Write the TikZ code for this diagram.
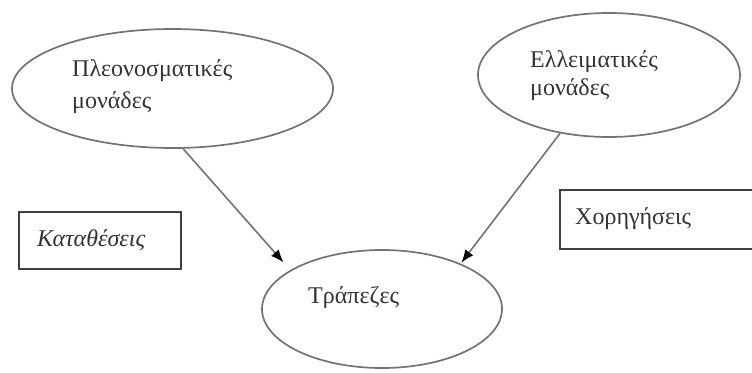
\documentclass[tikz,border=0pt]{standalone}
\usepackage{fontspec}
\setmainfont{Liberation Serif}
\usetikzlibrary{shapes.geometric,arrows.meta}
\begin{document}
\begin{tikzpicture}[x=1pt,y=-1pt,
  unit/.style={ellipse,draw=black!55,line width=1.7pt,inner sep=0pt},
  account/.style={rectangle,draw=black!75,line width=1.5pt,inner sep=0pt},
  lbl/.style={anchor=base west,inner sep=0pt,text=black!80,font=\fontsize{24}{28}\selectfont},
  flow/.style={draw=black!55,line width=1.6pt,-{Latex[length=13pt,width=10pt,black]}}]
\clip (0,0) rectangle (752,372);
\fill[white] (0,0) rectangle (752,372);

% surplus units, deficit units and banks
\node[unit,minimum width=321pt,minimum height=119pt] (surplus) at (172.5,88.5) {};
\node[unit,minimum width=262pt,minimum height=124pt] (deficit) at (609,75) {};
\node[unit,minimum width=240pt,minimum height=118pt] (banks) at (382,309) {};

% deposits and loans
\node[account,minimum width=162pt,minimum height=57pt] (deposits) at (100,240.5) {};
\node[account,minimum width=240pt,minimum height=59pt] (loans) at (680,219.5) {};

% labels
\node[lbl] (surplusA) at (72,76) {Πλεονοσματικές};
\node[lbl] (surplusB) at (72,108) {μονάδες};
\node[lbl] (deficitA) at (530,67) {Ελλειματικές};
\node[lbl] (deficitB) at (530,95) {μονάδες};
\node[lbl] (banksT) at (308,303) {Τράπεζες};
\node[lbl,font=\fontsize{24}{28}\selectfont\itshape] (depositsT) at (37,246) {Καταθέσεις};
\node[lbl] (loansT) at (575,224) {Χορηγήσεις};

% flows into the banks
\draw[flow,shorten >=10pt] (surplus.-80.5) -- (banks.157.6);
\draw[flow,shorten >=1pt] (deficit.-130.4) -- (banks.30.1);
\end{tikzpicture}
\end{document}
